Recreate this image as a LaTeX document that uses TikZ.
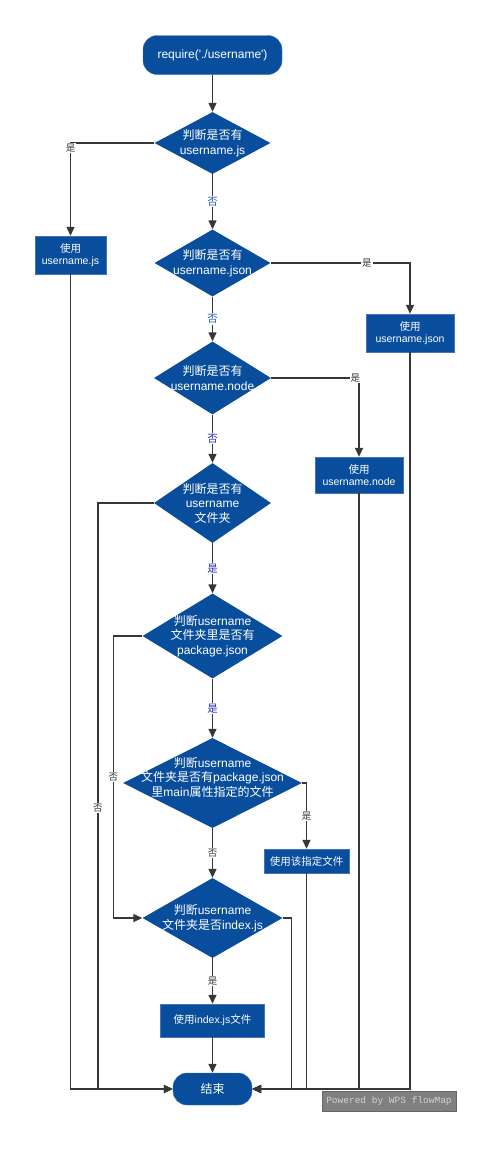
\documentclass[tikz,border=0pt]{standalone}
\usepackage{fontspec}
\setmainfont{Liberation Sans}
\newfontfamily\cjk{Noto Sans CJK SC}
\newfontfamily\wmfont{Liberation Mono}
\usetikzlibrary{shapes.geometric,arrows.meta}

\definecolor{flowblue}{RGB}{8,78,156}
\definecolor{flowedge}{RGB}{70,115,185}
\definecolor{linegray}{RGB}{55,55,55}
\definecolor{lblblue}{RGB}{40,95,180}
\definecolor{lblpurple}{RGB}{45,45,175}
\definecolor{wmgray}{RGB}{128,128,128}
\definecolor{wmtext}{RGB}{210,210,210}

\newcommand{\zh}[1]{{\cjk #1}}

\begin{document}
\begin{tikzpicture}[x=1pt, y=-1pt,
  term/.style={rectangle, rounded corners=14pt, fill=flowblue, draw=flowedge, text=white,
    font=\fontsize{12}{14}\selectfont, inner sep=0pt},
  proc/.style={rectangle, fill=flowblue, draw=flowedge, text=white, align=center,
    font=\fontsize{10.5}{12.5}\selectfont, inner sep=0pt},
  dec/.style={diamond, fill=flowblue, inner sep=0pt},
  dtext/.style={text=white, align=center, font=\fontsize{12}{14.5}\selectfont},
  arr/.style={draw=linegray, line width=1.4pt, -{Triangle[length=9pt,width=8pt]}},
  lbl/.style={fill=white, inner sep=1pt, text=linegray, font=\fontsize{9.5}{9.5}\selectfont\cjk},
  blbl/.style={lbl, text=lblblue, font=\fontsize{10.5}{10.5}\selectfont\cjk},
  plbl/.style={blbl, text=lblpurple},
  wmark/.style={rectangle, fill=wmgray, draw=wmgray!80!black, text=wmtext,
    font=\fontsize{9.5}{10}\selectfont\wmfont, inner sep=0pt}
]
\useasboundingbox (0,0) rectangle (500,1151);

% start / end
\node[term, minimum width=139, minimum height=39] (start) at (212.5,55)
  {require(\textquotesingle./username\textquotesingle)};
\node[term, minimum width=79, minimum height=32] (end) at (212.5,1089) {\zh{结束}};

% decisions
\node[dec, minimum width=116, minimum height=62,
  label={[dtext]center:{\zh{判断是否有}\\username.js}}] (d1) at (212.5,143) {};
\node[dec, minimum width=116, minimum height=67,
  label={[dtext]center:{\zh{判断是否有}\\username.json}}] (d2) at (212.5,263) {};
\node[dec, minimum width=117, minimum height=73,
  label={[dtext]center:{\zh{判断是否有}\\username.node}}] (d3) at (212.5,378) {};
\node[dec, minimum width=117, minimum height=80,
  label={[dtext]center:{\zh{判断是否有}\\username\\\zh{文件夹}}}] (d4) at (212.5,503) {};
\node[dec, minimum width=140, minimum height=85,
  label={[dtext]center:{\zh{判断}username\\\zh{文件夹里是否有}\\package.json}}] (d5) at (212.5,636) {};
\node[dec, minimum width=179, minimum height=90,
  label={[dtext, yshift=6pt]center:{\zh{判断}username\\\zh{文件夹是否有}package.json\\\zh{里}main\zh{属性指定的文件}}}] (d6) at (212.5,783) {};
\node[dec, minimum width=140, minimum height=80,
  label={[dtext]center:{\zh{判断}username\\\zh{文件夹是否}index.js}}] (d7) at (212.5,918) {};

% actions
\node[proc, minimum width=71, minimum height=38] (usejs) at (70.5,255) {\zh{使用}\\username.js};
\node[proc, minimum width=88, minimum height=38] (usejson) at (410,333) {\zh{使用}\\username.json};
\node[proc, minimum width=88, minimum height=36] (usenode) at (359,475) {\zh{使用}\\username.node};
\node[proc, minimum width=85, minimum height=24] (usespec) at (306.5,861) {\zh{使用该指定文件}};
\node[proc, minimum width=104, minimum height=33] (useidx) at (212.5,1020.5) {\zh{使用}index.js\zh{文件}};

% watermark
\node[wmark, minimum width=134, minimum height=20] (wm) at (389,1101) {Powered by WPS flowMap};

% main column
\draw[arr] (start) -- (d1);
\draw[arr] (d1) -- node[blbl]{否} (d2);
\draw[arr] (d2) -- node[blbl]{否} (d3);
\draw[arr] (d3) -- node[plbl]{否} (d4);
\draw[arr] (d4) -- node[plbl]{是} (d5);
\draw[arr] (d5) -- node[plbl]{是} (d6);
\draw[arr] (d6) -- node[lbl]{否} (d7);
\draw[arr] (d7) -- node[lbl]{是} (useidx);
\draw[arr] (useidx) -- (end);

% branches
\draw[arr] (d1.west) -| node[lbl, pos=0.5, yshift=-5pt]{是} (usejs.north);
\draw[arr] (d2.east) -| node[lbl, pos=0.345]{是} (usejson.north);
\draw[arr] (d3.east) -| node[lbl, pos=0.48]{是} (usenode.north);
\draw[arr] (d4.west) -- ++(-56,0) |- node[lbl, pos=0.26]{否} (end.west);
\draw[arr] (d5.west) -- ++(-29,0) |- node[lbl, pos=0.25]{否} (d7.west);
\draw[arr] (d6.east) -| node[lbl, pos=0.75]{是} (usespec.north);
\draw[arr] (d7.east) -- ++(9,0) |- (end.east);

% into end
\draw[arr] (usejs.south) |- (end.west);
\draw[arr] (usespec.south) |- (end.east);
\draw[arr] (usenode.south) |- (end.east);
\draw[arr] (usejson.south) |- (end.east);

\end{tikzpicture}
\end{document}
